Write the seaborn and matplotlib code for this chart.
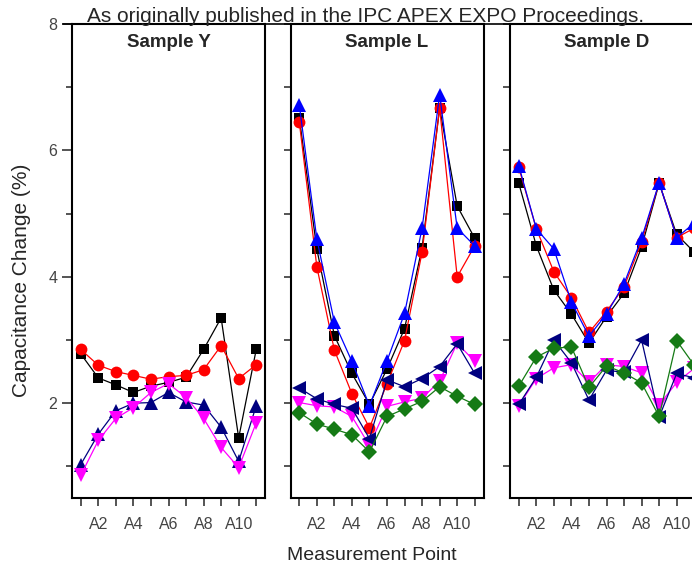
import pandas as pd
import seaborn as sns
import matplotlib.pyplot as plt
from matplotlib.lines import Line2D
from matplotlib.ticker import FixedLocator

# measurement points A1..A11
points = ['A1', 'A2', 'A3', 'A4', 'A5', 'A6', 'A7', 'A8', 'A9', 'A10', 'A11']
samples = ['Sample Y', 'Sample L', 'Sample D']

# Sample Y
Y_square = [2.78, 2.40, 2.29, 2.17, 2.27, 2.33, 2.41, 2.85, 3.35, 1.45, 2.85]
Y_circle = [2.85, 2.60, 2.50, 2.44, 2.38, 2.42, 2.44, 2.53, 2.91, 2.39, 2.61]
Y_up = [1.03, 1.51, 1.88, 2.00, 2.01, 2.17, 2.02, 1.97, 1.62, 1.08, 1.96]
Y_down = [0.86, 1.41, 1.76, 1.93, 2.17, 2.31, 2.09, 1.76, 1.30, 0.98, 1.69]

# Sample L
L_square = [6.52, 4.44, 3.07, 2.47, 1.98, 2.54, 3.18, 4.46, 6.67, 5.12, 4.61]
L_circle = [6.45, 4.16, 2.84, 2.15, 1.61, 2.31, 2.99, 4.39, 6.67, 4.00, 4.49]
L_up = [6.72, 4.60, 3.28, 2.66, 1.96, 2.67, 3.42, 4.77, 6.88, 4.77, 4.49]
L_down = [2.01, 1.96, 1.94, 1.79, 1.33, 1.95, 2.02, 2.08, 2.35, 2.95, 2.66]
L_left = [2.24, 2.07, 1.98, 1.92, 1.44, 2.37, 2.26, 2.39, 2.58, 2.94, 2.47]
L_diamond = [1.85, 1.67, 1.59, 1.50, 1.23, 1.79, 1.91, 2.03, 2.26, 2.11, 1.98]

# Sample D
D_square = [5.48, 4.49, 3.79, 3.41, 2.95, 3.37, 3.74, 4.47, 5.48, 4.67, 4.39]
D_circle = [5.73, 4.76, 4.08, 3.67, 3.12, 3.45, 3.84, 4.55, 5.49, 4.62, 4.77]
D_up = [5.76, 4.76, 4.44, 3.60, 3.06, 3.41, 3.89, 4.61, 5.49, 4.62, 4.85]
D_down = [1.96, 2.39, 2.56, 2.61, 2.33, 2.61, 2.58, 2.48, 1.97, 2.33, 2.55]
D_left = [1.98, 2.41, 3.00, 2.64, 2.05, 2.52, 2.49, 3.00, 1.78, 2.47, 2.40]
D_diamond = [2.27, 2.73, 2.87, 2.89, 2.25, 2.59, 2.48, 2.32, 1.79, 2.99, 2.60]

# (sample, values, color, marker, size)
series = [
    ('Sample Y', Y_square, 'black', 's', 7.5),
    ('Sample Y', Y_circle, 'red', 'o', 8.5),
    ('Sample Y', Y_up, '#000080', '^', 10),
    ('Sample Y', Y_down, '#ff00ff', 'v', 10),
    ('Sample L', L_square, 'black', 's', 7.5),
    ('Sample L', L_circle, 'red', 'o', 8.5),
    ('Sample L', L_up, '#0000ff', '^', 10),
    ('Sample L', L_down, '#ff00ff', 'v', 10),
    ('Sample L', L_left, '#000080', '<', 10),
    ('Sample L', L_diamond, '#157a15', 'D', 8.5),
    ('Sample D', D_square, 'black', 's', 7.5),
    ('Sample D', D_circle, 'red', 'o', 8.5),
    ('Sample D', D_up, '#0000ff', '^', 10),
    ('Sample D', D_down, '#ff00ff', 'v', 10),
    ('Sample D', D_left, '#000080', '<', 10),
    ('Sample D', D_diamond, '#157a15', 'D', 8.5),
]

sns.set_style('ticks')
plt.rcParams['font.family'] = ['Liberation Sans', 'DejaVu Sans']

fig = plt.figure(figsize=(6.92, 5.69), dpi=100)

lefts = [72 / 692, 290.5 / 692, 510 / 692]
bottom = 71 / 569
height = 474 / 569
width = 193 / 692

for i, name in enumerate(samples):
    ax = fig.add_axes([lefts[i], bottom, width, height])
    for s, vals, col, mk, ms in series:
        if s != name:
            continue
        df = pd.DataFrame({'pos': range(1, len(points) + 1), 'value': vals})
        sns.lineplot(data=df, x='pos', y='value', color=col, marker=mk, markersize=ms,
                     markeredgewidth=0, linewidth=0.9, legend=False, ax=ax)
    ax.set_xlim(0.5, 11.5)
    ax.set_ylim(0.5, 8)
    ax.set_xlabel('')
    ax.set_ylabel('')
    ax.set_xticks([2, 4, 6, 8, 10])
    ax.set_xticklabels(points[1::2])
    ax.xaxis.set_minor_locator(FixedLocator([1, 3, 5, 7, 9, 11]))
    ax.set_yticks([2, 4, 6, 8])
    ax.yaxis.set_minor_locator(FixedLocator([1, 3, 5, 7]))
    ax.tick_params(axis='x', which='both', direction='out', length=6, width=1.1,
                   labelsize=11.5, labelcolor='#444444', pad=8)
    if i == 0:
        ax.tick_params(axis='y', which='major', direction='out', length=7, width=1.1,
                       labelsize=11.5, labelcolor='#444444')
        ax.tick_params(axis='y', which='minor', direction='out', length=4, width=1.1)
    else:
        ax.tick_params(axis='y', which='both', direction='out', length=5, width=1.1,
                       labelleft=False)
    for sp in ax.spines.values():
        sp.set_visible(True)
        sp.set_linewidth(1.5)
        sp.set_color('black')
    ax.text(0.5, 0.962, name, transform=ax.transAxes, ha='center', va='center',
            fontsize=13.5, fontweight='bold')

# line running across the top of the panels
fig.add_artist(Line2D([63 / 692, 1.0], [1 - 24 / 569, 1 - 24 / 569],
                      transform=fig.transFigure, color='black', lw=1.2))

fig.text(366 / 692, 1 - 17 / 569, 'As originally published in the IPC APEX EXPO Proceedings.',
         ha='center', va='center', fontsize=15)
fig.text(22 / 692, 1 - 280 / 569, 'Capacitance Change (%)', rotation=90,
         ha='center', va='center', fontsize=15)
fig.text(372 / 692, 1 - 555 / 569, 'Measurement Point', ha='center', va='center', fontsize=14)

fig.savefig('out.png', dpi=100)
